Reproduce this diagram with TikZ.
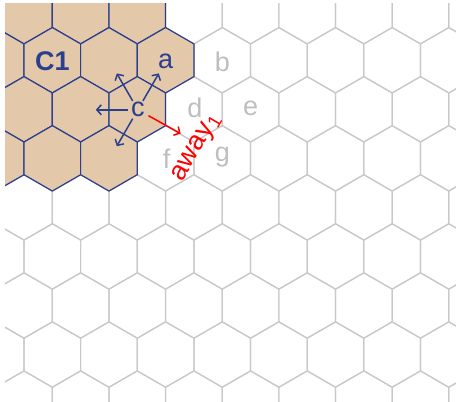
\documentclass[tikz,border=0pt]{standalone}
\usepackage{fontspec}
\setmainfont{Liberation Sans}
\usetikzlibrary{arrows.meta,calc}
\definecolor{Cell}{HTML}{E3C8A9}
\definecolor{Edge}{HTML}{C9C9C9}
\definecolor{Deep}{HTML}{2B3F8E}
\definecolor{Faint}{HTML}{BEBEBE}
\definecolor{Away}{HTML}{FF0000}
% one hexagon (pointy top) round a centre
\newcommand{\hexat}[2]{(#1,#2) +(30:32.7) -- +(90:32.7) -- +(150:32.7)
  -- +(210:32.7) -- +(270:32.7) -- +(330:32.7) -- cycle}

\begin{document}
\begin{tikzpicture}[x=1pt,y=1pt,
    hexcell/.style={draw=Edge,line width=1.2pt},
    owncell/.style={draw=Deep,fill=Cell,line width=1.2pt},
    lbl/.style={font=\fontsize{27}{30}\selectfont,inner sep=1pt},
    faintlbl/.style={lbl,text=Faint},
    link/.style={draw=Deep,line width=1.5pt,-{Straight Barb[length=4.5pt,width=10pt]}}]
  \useasboundingbox (0,0) rectangle (456,402);
  \clip (5,0) rectangle (456,398);
  % grey grid
  \foreach \j in {0,...,8}
    \foreach \i in {-1,...,8} {
      \pgfmathsetmacro\cx{24+56.64*\i-28.32*mod(\j,2)}
      \pgfmathsetmacro\cy{390.8-49.05*\j}
      \draw[hexcell] \hexat{\cx}{\cy};
    }
  % cells of C1
  \foreach \i/\j in {0/0,1/0,2/0,0/1,1/1,2/1,3/1,0/2,1/2,2/2,0/3,1/3,2/3} {
    \pgfmathsetmacro\cx{24+56.64*\i-28.32*mod(\j,2)}
    \pgfmathsetmacro\cy{390.8-49.05*\j}
    \draw[owncell] \hexat{\cx}{\cy};
  }
  \node[lbl,text=Deep,font=\fontsize{27}{30}\selectfont\bfseries] (c1) at (52.3,341.2) {C1};
  \node[lbl,text=Deep] (a) at (165.6,340.5) {a};
  \node[faintlbl] (b) at (222.3,340.5) {b};
  \node[lbl,text=Deep,circle,inner sep=0pt,minimum size=20pt] (c) at (137.8,292.2) {c};
  \node[faintlbl] (d) at (194.9,294.2) {d};
  \node[faintlbl] (e) at (250.6,293.2) {e};
  \node[faintlbl] (f) at (166.6,243.6) {f};
  \node[faintlbl] (g) at (222.3,245.1) {g};
  % moves out of c
  \foreach \ang in {60,120,180,240} {
    \coordinate (tip\ang) at ($(c.center)+(\ang:42)$);
    \draw[link] (c) -- (tip\ang);
  }
  \coordinate (tipaway) at ($(c.center)+(-29:49)$);
  \draw[link,draw=Away,shorten <=2pt] (c) -- (tipaway);
  \node[lbl,text=Away,rotate=60] (away) at (197,254) {away\textsubscript{1}};
\end{tikzpicture}
\end{document}
